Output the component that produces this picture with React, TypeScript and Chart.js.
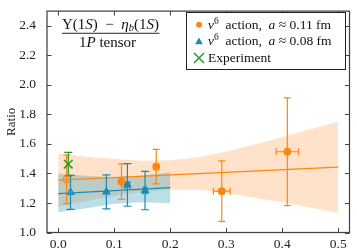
import React, { useEffect, useRef } from 'react';
import { Chart, registerables } from 'chart.js';
Chart.register(...registerables);

const FONT = '"Liberation Serif", "DejaVu Serif", serif';

const xTicks = [0.0, 0.1, 0.2, 0.3, 0.4, 0.5];
const yTicks = [1.0, 1.2, 1.4, 1.6, 1.8, 2.0, 2.2, 2.4];

// v6 action, a ~ 0.11 fm (orange)
const orangeX = [0.015, 0.113, 0.175, 0.292, 0.409];
const orangeY = [1.36, 1.345, 1.446, 1.28, 1.547];
const orangeXErr = [0.0, 0.004, 0.004, 0.015, 0.02];
const orangeYErr = [0.165, 0.12, 0.117, 0.205, 0.365];
const orangeOpen = [true, false, false, false, false];

// v6 action, a ~ 0.08 fm (blue)
const blueX = [0.022, 0.086, 0.1235, 0.155];
const blueY = [1.272, 1.275, 1.322, 1.284];
const blueXErr = [0.0, 0.0, 0.004, 0.003];
const blueYErr = [0.115, 0.115, 0.144, 0.13];
const blueOpen = [true, false, false, false];

// Experiment
const expX = [0.018];
const expY = [1.463];
const expYErr = [0.08];

// fits
const orangeFitX = [0.0, 0.5];
const orangeFitY = [1.355, 1.4425];
const blueFitX = [0.0, 0.2];
const blueFitY = [1.264, 1.304];

// bands
const orangeBandX = [0.0, 0.05, 0.1, 0.15, 0.2, 0.25, 0.3, 0.35, 0.4, 0.45, 0.5];
const orangeBandUpper = [1.535, 1.514, 1.4975, 1.486, 1.49, 1.509, 1.5475, 1.596, 1.645, 1.699, 1.7525];
const orangeBandLower = [1.175, 1.214, 1.2475, 1.276, 1.29, 1.289, 1.2675, 1.236, 1.205, 1.169, 1.1325];
const blueBandX = [0.0, 0.05, 0.1, 0.15, 0.2];
const blueBandUpper = [1.40, 1.385, 1.375, 1.385, 1.408];
const blueBandLower = [1.138, 1.165, 1.195, 1.205, 1.198];

const ORANGE = '#ff870f';
const BLUE = '#1a8cb2';
const GREEN = '#2a9a2a';

const pts = (xs: number[], ys: number[]) => xs.map((x, i) => ({ x, y: ys[i] }));

type Seg = { t: string; italic?: boolean; size: number; dy?: number };

function drawRich(ctx: CanvasRenderingContext2D, segs: Seg[], x: number, y: number, align: 'left' | 'center') {
  const widths = segs.map((s) => {
    ctx.font = `${s.italic ? 'italic ' : ''}${s.size}px ${FONT}`;
    return ctx.measureText(s.t).width;
  });
  const total = widths.reduce((a, b) => a + b, 0);
  let cx = align === 'center' ? x - total / 2 : x;
  ctx.textAlign = 'left';
  ctx.textBaseline = 'alphabetic';
  segs.forEach((s, i) => {
    ctx.font = `${s.italic ? 'italic ' : ''}${s.size}px ${FONT}`;
    ctx.fillText(s.t, cx, y + (s.dy || 0));
    cx += widths[i];
  });
  return total;
}

function drawErr(chart: any, xs: number[], ys: number[], xe: number[] | null, ye: number[], color: string, cap: number) {
  const ctx: CanvasRenderingContext2D = chart.ctx;
  const xs_ = chart.scales.x;
  const ys_ = chart.scales.y;
  ctx.save();
  ctx.strokeStyle = color;
  ctx.lineWidth = 1.2;
  xs.forEach((xv, i) => {
    const px = xs_.getPixelForValue(xv);
    const py = ys_.getPixelForValue(ys[i]);
    const top = ys_.getPixelForValue(ys[i] + ye[i]);
    const bot = ys_.getPixelForValue(ys[i] - ye[i]);
    ctx.beginPath();
    ctx.moveTo(px, top); ctx.lineTo(px, bot);
    ctx.moveTo(px - cap, top); ctx.lineTo(px + cap, top);
    ctx.moveTo(px - cap, bot); ctx.lineTo(px + cap, bot);
    ctx.stroke();
    if (xe && xe[i] > 0) {
      const l = xs_.getPixelForValue(xv - xe[i]);
      const r = xs_.getPixelForValue(xv + xe[i]);
      ctx.beginPath();
      ctx.moveTo(l, py); ctx.lineTo(r, py);
      ctx.moveTo(l, py - cap); ctx.lineTo(l, py + cap);
      ctx.moveTo(r, py - cap); ctx.lineTo(r, py + cap);
      ctx.stroke();
    }
  });
  ctx.restore();
}

const customPlugin = {
  id: 'custom',
  afterDatasetDraw(chart: any, args: any) {
    const ds = chart.data.datasets[args.index];
    if (ds.label === 'blueFit') {
      drawErr(chart, orangeX, orangeY, orangeXErr, orangeYErr, ORANGE, 3.5);
      drawErr(chart, blueX, blueY, blueXErr, blueYErr, BLUE, 4);
      drawErr(chart, expX, expY, null, expYErr, GREEN, 4);
    }
  },
  afterDraw(chart: any) {
    const ctx: CanvasRenderingContext2D = chart.ctx;
    const { left, right, top, bottom } = chart.chartArea;
    const sx = chart.scales.x;
    const sy = chart.scales.y;
    ctx.save();
    ctx.strokeStyle = '#444';
    ctx.lineWidth = 1.25;
    ctx.strokeRect(left, top, right - left, bottom - top);
    ctx.lineWidth = 1;
    ctx.beginPath();
    const tl = 4.5;
    xTicks.forEach((v) => {
      const p = Math.round(sx.getPixelForValue(v)) + 0.5;
      ctx.moveTo(p, bottom); ctx.lineTo(p, bottom - tl);
      ctx.moveTo(p, top); ctx.lineTo(p, top + tl);
    });
    yTicks.forEach((v) => {
      const p = Math.round(sy.getPixelForValue(v)) + 0.5;
      ctx.moveTo(left, p); ctx.lineTo(left + tl, p);
      ctx.moveTo(right, p); ctx.lineTo(right - tl, p);
    });
    ctx.stroke();

    // title fraction
    ctx.fillStyle = '#111';
    const S = 15;
    drawRich(ctx, [
      { t: 'Υ(1', size: S },
      { t: 'S', italic: true, size: S },
      { t: ')  −  ', size: S },
      { t: 'η', italic: true, size: S },
      { t: 'b', italic: true, size: 10.5, dy: 2.5 },
      { t: '(1', size: S },
      { t: 'S', italic: true, size: S },
      { t: ')', size: S },
    ], 110.5, 28.5, 'center');
    ctx.fillRect(62, 32.8, 97.5, 0.9);
    drawRich(ctx, [
      { t: '1', size: S },
      { t: 'P', italic: true, size: S },
      { t: ' tensor', size: S },
    ], 79, 46.5, 'left');

    // legend
    const lx = 186, ly = 12, lw = 159, lh = 57;
    ctx.fillStyle = '#fff';
    ctx.fillRect(lx, ly, lw, lh);
    ctx.strokeStyle = '#222';
    ctx.lineWidth = 1;
    ctx.strokeRect(lx + 0.5, ly + 0.5, lw, lh);
    const mx = 199;
    ctx.fillStyle = ORANGE;
    ctx.beginPath(); ctx.arc(mx, 24.7, 3, 0, Math.PI * 2); ctx.fill();
    ctx.fillStyle = BLUE;
    ctx.beginPath();
    ctx.moveTo(mx, 37.5); ctx.lineTo(mx + 3.8, 44.2); ctx.lineTo(mx - 3.8, 44.2); ctx.closePath(); ctx.fill();
    ctx.strokeStyle = GREEN; ctx.lineWidth = 1.5;
    ctx.beginPath();
    ctx.moveTo(mx - 5, 53); ctx.lineTo(mx + 5, 63);
    ctx.moveTo(mx + 5, 53); ctx.lineTo(mx - 5, 63);
    ctx.stroke();
    ctx.fillStyle = '#111';
    const L = 13.5;
    const row = (y: number, val: string) => drawRich(ctx, [
      { t: 'v', italic: true, size: L },
      { t: '6', size: 9.5, dy: -5 },
      { t: '  action,  ', size: L },
      { t: 'a', italic: true, size: L },
      { t: ' ≈ ' + val + ' fm', size: L },
    ], 208, y, 'left');
    row(28.5, '0.11');
    row(45.2, '0.08');
    drawRich(ctx, [{ t: 'Experiment', size: L }], 208, 61.7, 'left');
    ctx.restore();
  },
};

export default function App() {
  const ref = useRef<HTMLCanvasElement>(null);
  useEffect(() => {
    document.body.style.margin = '0';
    const canvas = ref.current!;
    const chart = new Chart(canvas, {
      type: 'scatter',
      data: {
        datasets: [
          { label: 'orangeBandUpper', data: pts(orangeBandX, orangeBandUpper), showLine: true, borderWidth: 0, pointRadius: 0, fill: '+1', backgroundColor: 'rgba(255,140,40,0.25)', borderColor: 'rgba(0,0,0,0)', order: 10 } as any,
          { label: 'orangeBandLower', data: pts(orangeBandX, orangeBandLower), showLine: true, borderWidth: 0, pointRadius: 0, fill: false, borderColor: 'rgba(0,0,0,0)', order: 10 } as any,
          { label: 'blueBandUpper', data: pts(blueBandX, blueBandUpper), showLine: true, borderWidth: 0, pointRadius: 0, fill: '+1', backgroundColor: 'rgba(60,160,190,0.35)', borderColor: 'rgba(0,0,0,0)', order: 9 } as any,
          { label: 'blueBandLower', data: pts(blueBandX, blueBandLower), showLine: true, borderWidth: 0, pointRadius: 0, fill: false, borderColor: 'rgba(0,0,0,0)', order: 9 } as any,
          { label: 'orangeFit', data: pts(orangeFitX, orangeFitY), showLine: true, borderWidth: 1.2, pointRadius: 0, borderColor: ORANGE, fill: false, order: 6 } as any,
          { label: 'blueFit', data: pts(blueFitX, blueFitY), showLine: true, borderWidth: 1.2, pointRadius: 0, borderColor: BLUE, fill: false, order: 5 } as any,
          { label: 'orange', data: pts(orangeX, orangeY), pointStyle: 'circle', pointRadius: 3.3, borderWidth: 1.2, borderColor: ORANGE, backgroundColor: orangeOpen.map((o) => (o ? 'rgba(0,0,0,0)' : ORANGE)), order: 3 } as any,
          { label: 'blue', data: pts(blueX, blueY), pointStyle: 'triangle', pointRadius: 4, borderWidth: 1.2, borderColor: BLUE, backgroundColor: blueOpen.map((o) => (o ? 'rgba(0,0,0,0)' : BLUE)), order: 2 } as any,
          { label: 'exp', data: pts(expX, expY), pointStyle: 'crossRot', pointRadius: 6, borderWidth: 1.5, borderColor: GREEN, order: 1 } as any,
        ],
      },
      options: {
        responsive: false,
        animation: false,
        layout: { padding: { top: 5, right: 5, left: 0, bottom: 0 } },
        plugins: { legend: { display: false }, tooltip: { enabled: false } },
        scales: {
          x: {
            type: 'linear',
            min: -0.02,
            max: 0.52,
            grid: { display: false },
            border: { display: false },
            afterBuildTicks: (s: any) => { s.ticks = xTicks.map((v) => ({ value: v })); },
            afterFit: (s: any) => { s.height = 19.5; },
            ticks: { padding: -4, color: '#222', font: { family: FONT, size: 13.5 }, callback: (v: any) => Number(v).toFixed(1), maxRotation: 0, autoSkip: false },
          },
          y: {
            type: 'linear',
            min: 1.0,
            max: 2.5,
            grid: { display: false },
            border: { display: false },
            afterBuildTicks: (s: any) => { s.ticks = yTicks.map((v) => ({ value: v })); },
            afterFit: (s: any) => { s.width = 47; },
            ticks: { padding: 3, color: '#222', font: { family: FONT, size: 13.5 }, callback: (v: any) => Number(v).toFixed(1), autoSkip: false },
            title: { display: true, text: 'Ratio', color: '#222', font: { family: FONT, size: 13 }, padding: { top: 4, bottom: 0 } },
          },
        },
      },
      plugins: [customPlugin],
    } as any);
    return () => chart.destroy();
  }, []);
  return (
    <div style={{ position: 'fixed', left: 0, top: 0, width: 357, height: 252 }}>
      <canvas ref={ref} width={357} height={252} />
    </div>
  );
}
